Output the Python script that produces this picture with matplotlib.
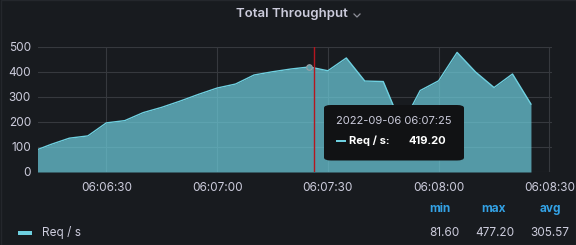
import matplotlib
matplotlib.use("Agg")
import matplotlib.pyplot as plt
from matplotlib.patches import FancyBboxPatch, Rectangle
from matplotlib.lines import Line2D
from matplotlib.ticker import FuncFormatter

plt.rcParams["font.family"] = ["Inter", "DejaVu Sans"]

# ===== data (seconds after 06:06:00, req/s) =====
secs = [10, 15, 20, 25, 30, 35, 40, 45, 50, 55,
        60, 65, 70, 75, 80, 85, 90, 95, 100, 105,
        110, 115, 120, 125, 130, 135, 140, 145]
req_per_s = [81.6, 110, 135, 144, 196, 205, 237, 258, 283, 310,
             335, 351, 387, 400, 411, 419.2, 404, 455, 363, 361,
             185, 325, 364, 477.2, 399, 337, 391, 271]
tick_secs = [30, 60, 90, 120, 150]
y_ticks = [0, 100, 200, 300, 400, 500]

stat_names = ["min", "max", "avg"]
stat_values = ["81.60", "477.20", "305.57"]

hover_sec = 85
hover_label = "2022-09-06 06:07:25"

# ===== colours =====
BG = "#181b1f"
TXT = "#ccccdc"
GRID = "#36393e"
SERIES = "#6ed0e0"
BLUE = "#33a2e5"

W, H = 576, 245
fig = plt.figure(figsize=(W / 100, H / 100), dpi=100, facecolor=BG)


def fx(px):
    return px / W


def fy(py):
    return 1 - py / H


fig.patches.append(Rectangle((fx(0.5), fy(244.5)), fx(575), 1 - 1 / H, transform=fig.transFigure,
                             fill=False, edgecolor="#24272c", lw=1))

ax = fig.add_axes([fx(38), fy(172), fx(552 - 38), (172 - 46.7) / H])
ax.set_facecolor(BG)

ax.fill_between(secs, req_per_s, 0, color=SERIES, alpha=0.7, lw=0, zorder=2)
ax.plot(secs, req_per_s, color=SERIES, lw=1, zorder=3)

# hover marker + crosshair
ax.plot([hover_sec], [req_per_s[secs.index(hover_sec)]], "o", ms=4,
        mfc="#5b9ea8", mec="#9aa0a6", mew=0.8, zorder=4)
ax.axvline(86.3, color="#b5161f", lw=1, zorder=5)

ax.set_xlim(11.5, 150.7)
ax.set_ylim(0, 500)
ax.set_xticks(tick_secs)
ax.set_yticks(y_ticks)
ax.xaxis.set_major_formatter(FuncFormatter(lambda v, p: "06:%02d:%02d" % (6 + int(v) // 60, int(v) % 60)))
ax.grid(True, color=GRID, lw=0.8, zorder=1)
ax.set_axisbelow(True)
for s in ax.spines.values():
    s.set_visible(False)
ax.tick_params(length=0, colors=TXT, labelsize=8.5)
ax.tick_params(axis="x", pad=7)
ax.tick_params(axis="y", pad=5)

# ===== title =====
fig.text(fx(292), fy(13.5), "Total Throughput", color=TXT, fontsize=9.5,
         fontweight="semibold", ha="center", va="center")
fig.add_artist(Line2D([fx(354), fx(357), fx(360)], [fy(14), fy(17), fy(14)],
                      transform=fig.transFigure, color="#8e9099", lw=0.9))

# ===== tooltip =====
fig.patches.append(FancyBboxPatch((fx(324), fy(160.5)), fx(464 - 324), (160.5 - 105) / H,
                                  boxstyle="round,pad=0,rounding_size=0.012",
                                  transform=fig.transFigure, facecolor="#111214",
                                  edgecolor="none", zorder=10))
fig.text(fx(336), fy(121), hover_label, color=TXT, fontsize=8, ha="left", va="center", zorder=11)
fig.patches.append(Rectangle((fx(336), fy(142.3)), fx(10), 2.5 / H, transform=fig.transFigure,
                             facecolor=SERIES, edgecolor="none", zorder=11))
fig.text(fx(349), fy(141), "Req / s:", color="#ffffff", fontsize=8, fontweight="bold",
         ha="left", va="center", zorder=11)
fig.text(fx(446), fy(141), "%.2f" % req_per_s[secs.index(hover_sec)], color="#ffffff",
         fontsize=8, fontweight="bold", ha="right", va="center", zorder=11)

# ===== legend =====
fig.patches.append(Rectangle((fx(18), fy(234.5)), fx(14), 3.5 / H, transform=fig.transFigure,
                             facecolor=SERIES, edgecolor="none"))
fig.text(fx(42), fy(232.7), "Req / s", color=TXT, fontsize=8.5, ha="left", va="center")
for name, val, right in zip(stat_names, stat_values, [459, 514, 569]):
    fig.text(fx(right - 8), fy(209.3), name, color=BLUE, fontsize=8.5, fontweight="bold",
             ha="right", va="center")
    fig.text(fx(right), fy(232.7), val, color=TXT, fontsize=8.5, ha="right", va="center")

fig.savefig("out.png", dpi=100, facecolor=BG)
